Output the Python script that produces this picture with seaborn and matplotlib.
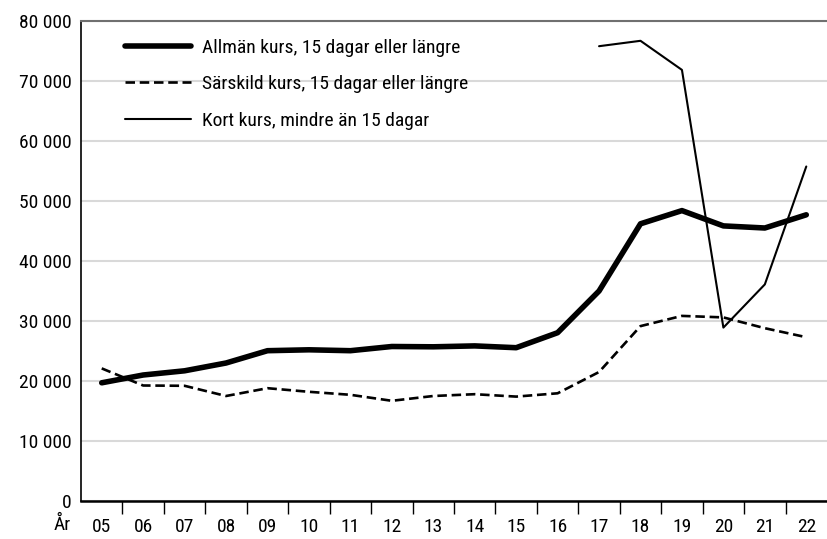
import numpy as np
import pandas as pd
import matplotlib
matplotlib.use("Agg")
import matplotlib.pyplot as plt
from matplotlib.ticker import FuncFormatter, FixedLocator
import seaborn as sns

years = ["05", "06", "07", "08", "09", "10", "11", "12", "13", "14", "15",
         "16", "17", "18", "19", "20", "21", "22"]
allman = [19700, 21000, 21700, 23000, 25050, 25200, 25050, 25750, 25700, 25850,
          25550, 28050, 35000, 46200, 48400, 45850, 45500, 47700]
sarskild = [22100, 19250, 19200, 17500, 18800, 18200, 17700, 16700, 17500, 17800,
            17400, 17950, 21500, 29150, 30850, 30600, 28800, 27300]
kort_years = ["17", "18", "19", "20", "21", "22"]
kort = [75800, 76700, 71850, 28900, 36100, 55750]
labels = ["Allmän kurs, 15 dagar eller längre",
          "Särskild kurs, 15 dagar eller längre",
          "Kort kurs, mindre än 15 dagar"]
yticks = [0, 10000, 20000, 30000, 40000, 50000, 60000, 70000, 80000]

sns.set_theme(style="white")
plt.rcParams['font.family'] = ['Roboto Condensed', 'DejaVu Sans']

FS = 14

fig = plt.figure(figsize=(8.27, 5.39), dpi=100)
ax = fig.add_axes([81/827, 38/539, 746/827, 480/539])

pos = np.arange(len(years))
kpos = np.array([years.index(y) for y in kort_years])

sns.lineplot(x=pos, y=allman, ax=ax, color="black", linewidth=4.0,
             label=labels[0], solid_capstyle="round")
sns.lineplot(x=pos, y=sarskild, ax=ax, color="black", linewidth=1.9,
             label=labels[1])
ax.lines[-1].set_dashes([3.6, 1.8])
sns.lineplot(x=kpos, y=kort, ax=ax, color="black", linewidth=1.5,
             label=labels[2])

ax.set_xlim(-0.5, len(years) - 0.5)
ax.set_ylim(0, 80000)
ax.set_yticks(yticks)
ax.yaxis.set_major_formatter(FuncFormatter(lambda v, p: f"{v:,.0f}".replace(",", " ")))
ax.set_xticks(pos)
ax.set_xticklabels(years)
ax.xaxis.set_minor_locator(FixedLocator(np.arange(0.5, len(years) - 1, 1.0)))
ax.tick_params(axis="x", which="major", length=0, pad=12, labelsize=FS, colors="black")
ax.tick_params(axis="x", which="minor", bottom=True, length=9, width=1, color="black", direction="out")
ax.tick_params(axis="y", length=0, pad=7, labelsize=FS, colors="black")

ax.grid(axis="y", color="#d9d9d9", linewidth=1.5)
ax.set_axisbelow(True)
for s in ["left", "bottom"]:
    ax.spines[s].set_color("black")
    ax.spines[s].set_linewidth(1.2)
ax.spines["bottom"].set_linewidth(1.8)
ax.spines["top"].set_color("#707070")
ax.spines["top"].set_linewidth(1.5)
ax.spines["right"].set_visible(False)
ax.set_xlabel("")
ax.set_ylabel("")

ax.text(-0.96, -15/480, "År", transform=ax.get_xaxis_transform(),
        ha="center", va="top", fontsize=FS, color="black")

leg = ax.legend(loc="upper left", bbox_to_anchor=(0.059, 0.963), frameon=False,
                fontsize=FS, handlelength=3.4, handletextpad=0.55,
                labelspacing=0.95, borderpad=0, borderaxespad=0)
for t in leg.get_texts():
    t.set_color("black")

fig.savefig("out.png", dpi=100)
